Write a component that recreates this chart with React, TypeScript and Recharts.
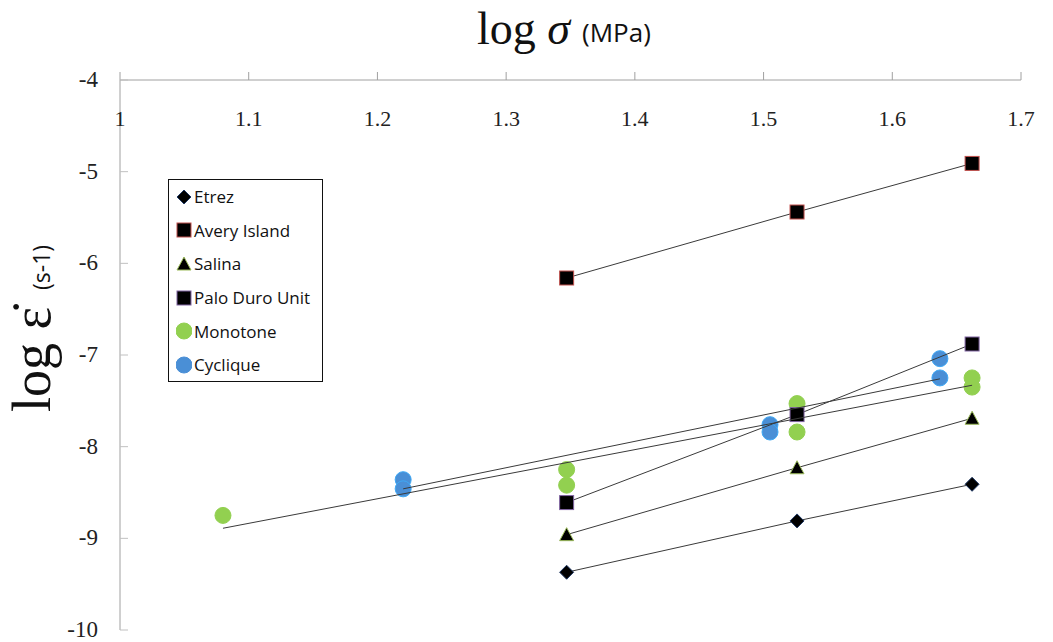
import { ComposedChart, Scatter, XAxis, YAxis } from 'recharts';

const X_TICKS = [1, 1.1, 1.2, 1.3, 1.4, 1.5, 1.6, 1.7];
const Y_TICKS = [-10, -9, -8, -7, -6, -5, -4];

// log sigma (MPa) / log strain rate (s-1)
const ETREZ = [
  { x: 1.347, y: -9.37 },
  { x: 1.526, y: -8.81 },
  { x: 1.662, y: -8.41 },
];
const AVERY = [
  { x: 1.347, y: -6.16 },
  { x: 1.526, y: -5.44 },
  { x: 1.662, y: -4.91 },
];
const SALINA = [
  { x: 1.347, y: -8.96 },
  { x: 1.526, y: -8.23 },
  { x: 1.662, y: -7.69 },
];
const PALO_DURO = [
  { x: 1.347, y: -8.61 },
  { x: 1.526, y: -7.65 },
  { x: 1.662, y: -6.88 },
];
const MONOTONE = [
  { x: 1.08, y: -8.75 },
  { x: 1.347, y: -8.25 },
  { x: 1.347, y: -8.42 },
  { x: 1.526, y: -7.53 },
  { x: 1.526, y: -7.84 },
  { x: 1.662, y: -7.25 },
  { x: 1.662, y: -7.35 },
];
const CYCLIQUE = [
  { x: 1.22, y: -8.36 },
  { x: 1.22, y: -8.46 },
  { x: 1.505, y: -7.76 },
  { x: 1.505, y: -7.84 },
  { x: 1.637, y: -7.04 },
  { x: 1.637, y: -7.25 },
];
const MONOTONE_FIT = [
  { x: 1.08, y: -8.89 },
  { x: 1.662, y: -7.33 },
];
const CYCLIQUE_FIT = [
  { x: 1.22, y: -8.46 },
  { x: 1.637, y: -7.26 },
];

const GREEN = '#92d050';
const BLUE = '#4a8fd6';
const LINE = '#3a3a3a';

const Diamond = ({ cx, cy }: any) => (
  <path d={`M${cx},${cy - 7}L${cx + 7},${cy}L${cx},${cy + 7}L${cx - 7},${cy}Z`} fill="#000" stroke="#1f3864" strokeWidth={1} />
);
const Square = (stroke: string) => ({ cx, cy }: any) => (
  <rect x={cx - 7} y={cy - 7} width={14} height={14} fill="#000" stroke={stroke} strokeWidth={1} />
);
const Triangle = ({ cx, cy }: any) => (
  <path d={`M${cx},${cy - 7}L${cx + 7},${cy + 6}L${cx - 7},${cy + 6}Z`} fill="#000" stroke="#9bbb59" strokeWidth={1} />
);
const Dot = (fill: string, stroke: string) => ({ cx, cy }: any) => (
  <circle cx={cx} cy={cy} r={8} fill={fill} stroke={stroke} strokeWidth={1} />
);
const Nothing = () => <g />;

const XTick = ({ x, y, payload }: any) => (
  <text x={x} y={y + 56} textAnchor="middle" fontFamily="Liberation Serif" fontSize={22} fill="#222">
    {payload.value}
  </text>
);
const YTick = ({ x, y, payload }: any) => (
  <g>
    <line x1={x + 12} x2={x + 20} y1={y} y2={y} stroke="#c0c0c0" />
    <text x={x - 10} y={y + 7} textAnchor="end" fontFamily="Liberation Serif" fontSize={23} fill="#222">
      {payload.value}
    </text>
  </g>
);

const LEGEND = [
  { name: 'Etrez', shape: Diamond },
  { name: 'Avery Island', shape: Square('#c0504d') },
  { name: 'Salina', shape: Triangle },
  { name: 'Palo Duro Unit', shape: Square('#8064a2') },
  { name: 'Monotone', shape: Dot(GREEN, GREEN) },
  { name: 'Cyclique', shape: Dot(BLUE, BLUE) },
];

export default function App() {
  return (
    <div style={{ position: 'absolute', left: 0, top: 0, width: 1053, height: 642, background: '#fff' }}>
      <ComposedChart width={1053} height={642} margin={{ top: 50, right: 32, left: 60, bottom: 12 }}>
        <XAxis
          type="number"
          dataKey="x"
          orientation="top"
          domain={[1, 1.7]}
          ticks={X_TICKS}
          height={30}
          tickSize={8}
          tickMargin={2}
          stroke="#a0a0a0"
          tick={<XTick />}
          allowDataOverflow
        />
        <YAxis
          type="number"
          dataKey="y"
          domain={[-10, -4]}
          ticks={Y_TICKS}
          width={60}
          tickLine={false}
          tickSize={0}
          tickMargin={12}
          stroke="#a0a0a0"
          tick={<YTick />}
          allowDataOverflow
        />
        <Scatter data={MONOTONE} shape={Dot(GREEN, GREEN)} isAnimationActive={false} />
        <Scatter data={CYCLIQUE} shape={Dot(BLUE, '#3fa9f5')} isAnimationActive={false} />
        <Scatter data={ETREZ} shape={Diamond} line={{ stroke: LINE, strokeWidth: 1 }} isAnimationActive={false} />
        <Scatter data={AVERY} shape={Square('#c0504d')} line={{ stroke: LINE, strokeWidth: 1 }} isAnimationActive={false} />
        <Scatter data={SALINA} shape={Triangle} line={{ stroke: LINE, strokeWidth: 1 }} isAnimationActive={false} />
        <Scatter data={PALO_DURO} shape={Square('#8064a2')} line={{ stroke: LINE, strokeWidth: 1 }} isAnimationActive={false} />
        <Scatter data={MONOTONE_FIT} shape={Nothing} line={{ stroke: LINE, strokeWidth: 1 }} isAnimationActive={false} />
        <Scatter data={CYCLIQUE_FIT} shape={Nothing} line={{ stroke: LINE, strokeWidth: 1 }} isAnimationActive={false} />
      </ComposedChart>

      <svg style={{ position: 'absolute', left: 0, top: 0 }} width={1053} height={642} pointerEvents="none">
        <text x={477} y={44} fontFamily="Liberation Serif" fontSize={46} fill="#111">
          <tspan>log </tspan>
          <tspan fontStyle="italic">σ</tspan>
        </text>
        <text x={582} y={42} fontFamily="Open Sans" fontSize={26} fill="#111">
          (MPa)
        </text>
        <g transform="translate(50,412) rotate(-90)">
          <text x={0} y={0} fontFamily="Liberation Serif" fontSize={54} fill="#111">
            log ε̇
          </text>
          <text x={122} y={0} fontFamily="Open Sans" fontSize={23} fill="#111">
            (s-1)
          </text>
        </g>
      </svg>

      <div
        style={{
          position: 'absolute',
          left: 168,
          top: 179,
          width: 155,
          height: 203,
          border: '1.5px solid #111',
          boxSizing: 'border-box',
          padding: '0 0 0 7px',
          fontFamily: 'Open Sans',
          fontSize: 17,
          color: '#111',
        }}
      >
        {LEGEND.map((l) => (
          <div key={l.name} style={{ display: 'flex', alignItems: 'center', height: 33.6 }}>
            <svg width={16} height={20} style={{ marginRight: 2 }}>
              <l.shape cx={8} cy={10} />
            </svg>
            {l.name}
          </div>
        ))}
      </div>
    </div>
  );
}
